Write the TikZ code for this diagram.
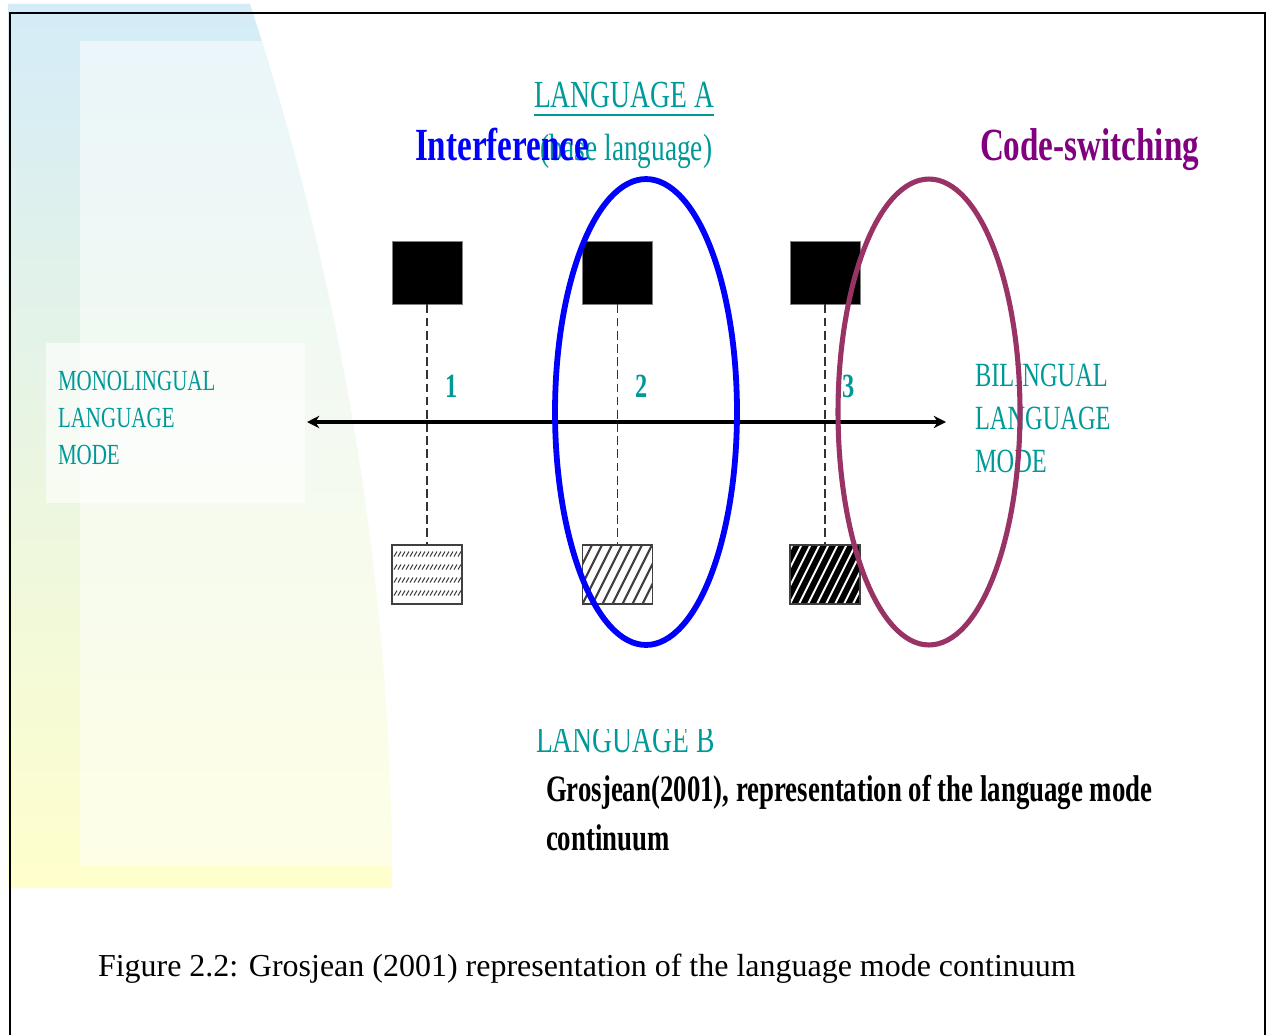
\documentclass[tikz,border=0pt]{standalone}
\usepackage{fontspec}
\setmainfont{Liberation Serif}
\newfontfamily\cond[FakeStretch=0.72]{Liberation Serif}
\usetikzlibrary{arrows.meta}
\definecolor{tealtxt}{RGB}{0,153,153}
\definecolor{plumring}{RGB}{153,51,102}
\definecolor{cspurple}{RGB}{128,0,128}
\definecolor{bgblue}{RGB}{212,236,248}
\definecolor{bgmid}{RGB}{232,247,232}
\definecolor{bgyellow}{RGB}{255,255,204}
\begin{document}
\begin{tikzpicture}[x=0.02cm,y=-0.02cm,
  txt/.style={inner sep=0pt, outer sep=0pt, anchor=base west},
  tealfont/.style={text=tealtxt},
  topbox/.style={draw=gray, fill=black, line width=0.5pt, minimum width=1.4cm, minimum height=1.26cm, inner sep=0pt},
  lowbox/.style={draw=black!75, line width=0.6pt, minimum width=1.4cm, minimum height=1.18cm, inner sep=0pt},
  hatchsparse/.style={fill=white, path picture={
     \foreach \r in {9,22,35,48}{
       \foreach \i in {0,...,16}{
         \draw[line width=0.6pt] ([xshift=\i*4*0.02cm+0.04cm, yshift=-\r*0.02cm-0.05cm]path picture bounding box.north west) -- ++(0.06cm,0.1cm);
       }}}},
  hatchmid/.style={fill=white, path picture={
     \foreach \i in {-7,...,8}{
       \draw[line width=1.2pt] ([xshift=\i*0.2cm]path picture bounding box.south west) -- ++(0.7cm,1.4cm);
     }}},
  hatchdense/.style={fill=black, path picture={
     \foreach \i in {-8,...,9}{
       \draw[white, line width=1.1pt] ([xshift=\i*0.18cm]path picture bounding box.south west) -- ++(0.7cm,1.4cm);
     }}},
  dashline/.style={draw=black!80, line width=0.7pt, dash pattern=on 5pt off 2.5pt},
  ring/.style={line width=3.3pt}
]
\useasboundingbox (0,0) rectangle (1266,1034);
\fill[white] (0,0) rectangle (1266,1034);

% background band at the left
\begin{scope}
  \clip (8,4) -- (250,4) .. controls (330,250) and (392,550) .. (392,888) -- (8,888) -- cycle;
  \shade[top color=bgblue, middle color=bgmid, bottom color=bgyellow] (8,4) rectangle (400,888);
  \fill[white, opacity=0.5] (80,41) rectangle (400,866);
\end{scope}
\fill[white, opacity=0.6] (46,343) rectangle (305,503);

% frame
\draw[line width=1.4pt] (10,1045) -- (10,13) -- (1265,13) -- (1265,1045);

% top boxes
\node[topbox] (t1) at (427,272.5) {};
\node[topbox] (t2) at (617.5,272.5) {};
\node[topbox] (t3) at (825,272.5) {};
% lower boxes
\node[lowbox, hatchsparse] (b1) at (427,574.5) {};
\node[lowbox, hatchmid] (b2) at (617.5,574.5) {};
\node[lowbox, hatchdense] (b3) at (825,574.5) {};

\draw[dashline] (t1.south) -- (b1.north);
\draw[dashline] (t2.south) -- (b2.north);
\draw[dashline] (t3.south) -- (b3.north);

% numbers
\node[txt, tealfont, font=\cond\bfseries\fontsize{19.3}{22}\selectfont] (n1) at (445,397) {1};
\node[txt, tealfont, font=\cond\bfseries\fontsize{19.3}{22}\selectfont] (n2) at (635,397) {2};
\node[txt, tealfont, font=\cond\bfseries\fontsize{19.3}{22}\selectfont] (n3) at (842,397) {3};

% continuum arrow
\coordinate (aL) at (307,422);
\coordinate (aR) at (946,422);
\draw[line width=1.9pt, {Stealth[length=7pt,width=7pt]}-{Stealth[length=7pt,width=7pt]}] (aL) -- (aR);

% side labels
\node[txt, tealfont, font=\cond\fontsize{16.6}{20}\selectfont] (m1) at (58,390) {MONOLINGUAL};
\node[txt, tealfont, font=\cond\fontsize{16.6}{20}\selectfont] (m2) at (58,427) {LANGUAGE};
\node[txt, tealfont, font=\cond\fontsize{16.6}{20}\selectfont] (m3) at (58,464) {MODE};
\node[txt, tealfont, font=\cond\fontsize{19.3}{22}\selectfont] (bl1) at (975,386) {BILINGUAL};
\node[txt, tealfont, font=\cond\fontsize{19.3}{22}\selectfont] (bl2) at (975,429) {LANGUAGE};
\node[txt, tealfont, font=\cond\fontsize{19.3}{22}\selectfont] (bl3) at (975,472) {MODE};

% top labels
\node[txt, tealfont, font=\cond\fontsize{21.8}{24}\selectfont] (langA) at (534,108) {LANGUAGE A};
\draw[tealtxt, line width=1.6pt] ([yshift=-4pt]langA.base west) -- ([yshift=-4pt]langA.base east);
\node[txt, tealfont, font=\cond\fontsize{21.6}{24}\selectfont] (base) at (540,160) {(base language)};
\node[txt, text=blue, font=\cond\bfseries\fontsize{26.2}{30}\selectfont] (interf) at (415,160) {Interference};
\node[txt, text=cspurple, font=\cond\bfseries\fontsize{26.2}{30}\selectfont] (cs) at (980,160) {Code-switching};

% lower labels
\begin{scope}
  \clip (500,729) rectangle (780,770);
  \node[txt, tealfont, font=\cond\fontsize{21.8}{24}\selectfont] (langB) at (536,752) {LANGUAGE B};
\end{scope}
\node[txt, font=\cond\bfseries\fontsize{21.2}{24}\selectfont] (ref1) at (546,801) {Grosjean(2001), representation of the language mode};
\node[txt, font=\cond\bfseries\fontsize{21.2}{24}\selectfont] (ref2) at (546,850) {continuum};

% rings
\draw[ring, blue] (646,412) ellipse [x radius=1.82cm, y radius=4.66cm];
\draw[ring, plumring, line width=2.9pt] (929,412) ellipse [x radius=1.82cm, y radius=4.66cm];

% caption
\node[txt, font=\fontsize{18.2}{22}\selectfont] (cap) at (98,976) {Figure 2.2: Grosjean (2001) representation of the language mode continuum};
\end{tikzpicture}
\end{document}
